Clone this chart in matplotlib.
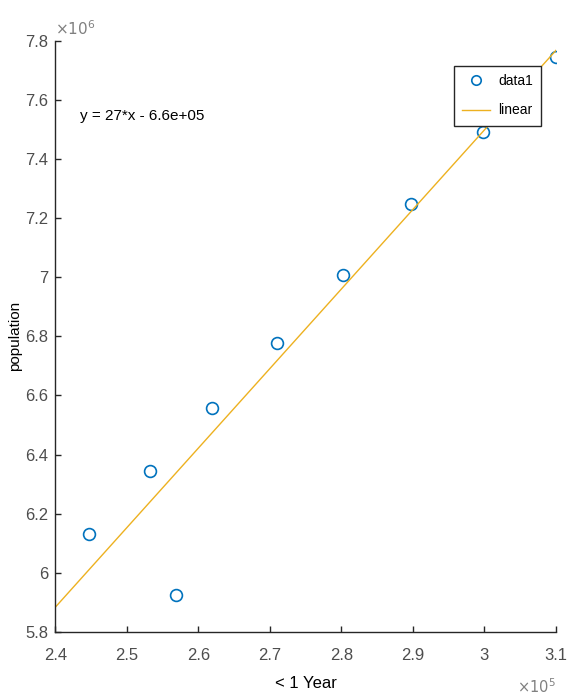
import numpy as np
import matplotlib
matplotlib.use('Agg')
import matplotlib.pyplot as plt
from matplotlib.ticker import FuncFormatter

plt.rcParams['font.family'] = ['Liberation Sans', 'DejaVu Sans']

# under 1 year vs population
under_one = [2.4475e5, 2.533e5, 2.569e5, 2.619e5, 2.710e5, 2.802e5, 2.897e5, 2.998e5, 3.100e5]
population = [6.130e6, 6.345e6, 5.925e6, 6.558e6, 6.778e6, 7.008e6, 7.248e6, 7.492e6, 7.746e6]
x_ticks = [2.4e5, 2.5e5, 2.6e5, 2.7e5, 2.8e5, 2.9e5, 3.0e5, 3.1e5]
y_ticks = [5.8e6, 6.0e6, 6.2e6, 6.4e6, 6.6e6, 6.8e6, 7.0e6, 7.2e6, 7.4e6, 7.6e6, 7.8e6]
fit_label = 'y = 27*x - 6.6e+05'

axis_col = '#262626'
tick_col = '#4d4d4d'

fig = plt.figure(figsize=(5.69, 6.98), dpi=100)
ax = fig.add_axes([0.097, 0.095, 0.88, 0.846])

# linear fit over the whole x range
coef = np.polyfit(under_one, population, 1)
xs = np.array([x_ticks[0], x_ticks[-1]])
ax.plot(under_one, population, 'o', markersize=8.5, markerfacecolor='none',
        markeredgecolor='#0072BD', markeredgewidth=1.2, label='data1')
ax.plot(xs, np.polyval(coef, xs), color='#EDB120', linewidth=1.0, label='linear')

ax.set_xlim(x_ticks[0], x_ticks[-1])
ax.set_ylim(y_ticks[0], y_ticks[-1])
ax.set_xticks(x_ticks)
ax.set_yticks(y_ticks)
ax.xaxis.set_major_formatter(FuncFormatter(lambda v, p: '%g' % round(v / 1e5, 2)))
ax.yaxis.set_major_formatter(FuncFormatter(lambda v, p: '%g' % round(v / 1e6, 2)))
ax.tick_params(direction='in', length=4, width=1, colors=axis_col, labelcolor=tick_col,
               labelsize=12)
ax.tick_params(axis='x', pad=12)
ax.tick_params(axis='y', pad=5)
for s in ['top', 'right']:
    ax.spines[s].set_visible(False)
for s in ['left', 'bottom']:
    ax.spines[s].set_color(axis_col)
    ax.spines[s].set_linewidth(1.0)

ax.text(0.0, 1.005, r'$\times10^6$', transform=ax.transAxes, fontsize=11,
        color='#808080', ha='left', va='bottom')
ax.text(1.0, -0.077, r'$\times10^5$', transform=ax.transAxes, fontsize=10.5,
        color='#808080', ha='right', va='top')

ax.text(2.435e5, 7.546e6, fit_label, fontsize=11, color='black', va='center')

ax.set_xlabel('< 1 Year', fontsize=12, color='black', labelpad=9)
ax.set_ylabel('population', fontsize=11, color='black', labelpad=2)

leg = ax.legend(loc='upper right', bbox_to_anchor=(0.985, 0.97), fontsize=10,
                frameon=True, fancybox=False, edgecolor=axis_col, framealpha=1,
                handlelength=2.0, handletextpad=0.6, borderpad=0.6,
                labelspacing=1.1, markerscale=0.8)
leg.get_frame().set_linewidth(1.0)

fig.savefig('out.png', dpi=100)
